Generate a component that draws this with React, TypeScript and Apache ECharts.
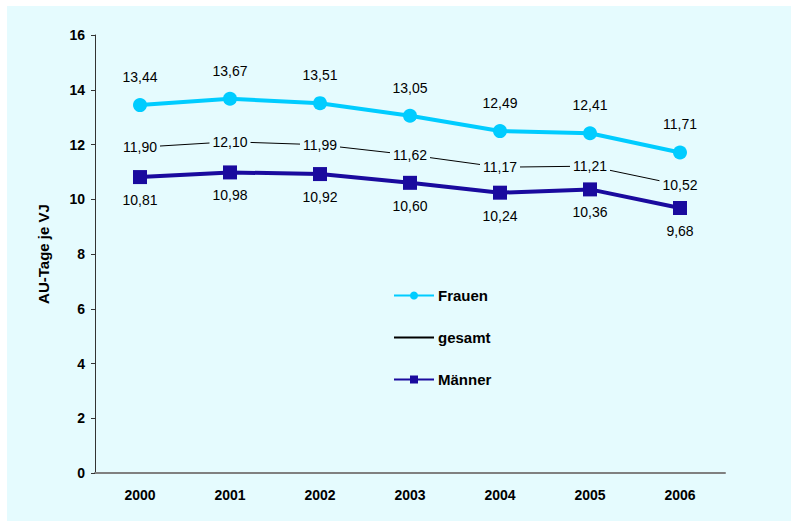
import React, { useEffect, useRef } from "react";
import * as echarts from "echarts";

const years = ["2000", "2001", "2002", "2003", "2004", "2005", "2006"];
const frauen = [13.44, 13.67, 13.51, 13.05, 12.49, 12.41, 11.71];
const gesamt = [11.9, 12.1, 11.99, 11.62, 11.17, 11.21, 10.52];
const maenner = [10.81, 10.98, 10.92, 10.6, 10.24, 10.36, 9.68];

const BG = "#E5FBFE";
const FONT = 'Arial, "Liberation Sans", sans-serif';
const fmt = (p: any) => Number(p.value).toFixed(2).replace(".", ",");

export default function App() {
  const ref = useRef<HTMLDivElement>(null);
  useEffect(() => {
    if (!ref.current) return;
    const chart = echarts.init(ref.current, null, { renderer: "svg" });
    chart.setOption({
      animation: false,
      backgroundColor: BG,
      textStyle: { fontFamily: FONT },
      grid: { left: 88, right: 66, top: 29, bottom: 48 },
      legend: {
        orient: "vertical",
        left: 386,
        top: 282,
        padding: 0,
        itemWidth: 40,
        itemHeight: 10,
        itemGap: 27,
        textStyle: { fontFamily: FONT, fontSize: 15, fontWeight: "bold", color: "#000", padding: [0, 0, 0, -1] },
        data: ["Frauen", "gesamt", "Männer"],
      },
      xAxis: {
        type: "category",
        data: years,
        boundaryGap: true,
        axisLine: { lineStyle: { color: "#808080", width: 2 } },
        axisTick: { show: false },
        axisLabel: { margin: 15, fontSize: 14, fontWeight: "bold", color: "#000", fontFamily: FONT },
      },
      yAxis: {
        type: "value",
        min: 0,
        max: 16,
        interval: 2,
        name: "AU-Tage je VJ",
        nameLocation: "middle",
        nameGap: 44,
        nameTextStyle: { fontSize: 15, fontWeight: "bold", color: "#000", fontFamily: FONT },
        axisLine: { show: true, lineStyle: { color: "#333", width: 1 } },
        axisTick: { show: true, length: 4, lineStyle: { color: "#333" } },
        splitLine: { show: false },
        axisLabel: { margin: 10, fontSize: 14, fontWeight: "bold", color: "#000", fontFamily: FONT },
      },
      series: [
        {
          name: "Frauen",
          type: "line",
          data: frauen,
          symbol: "circle",
          symbolSize: 14,
          lineStyle: { color: "#00CCFF", width: 4 },
          itemStyle: { color: "#00CCFF" },
          label: {
            show: true,
            position: "inside",
            offset: [0, -28],
            formatter: fmt,
            color: "#000",
            fontSize: 14,
            fontFamily: FONT,
          },
          z: 3,
        },
        {
          name: "gesamt",
          type: "line",
          data: gesamt,
          symbol: "circle",
          symbolSize: 1,
          lineStyle: { color: "#000", width: 1 },
          itemStyle: { color: "rgba(0,0,0,0)" },
          label: {
            show: true,
            position: "inside",
            formatter: fmt,
            color: "#000",
            fontSize: 14,
            fontFamily: FONT,
            backgroundColor: BG,
            padding: [1, 3],
          },
          z: 2,
        },
        {
          name: "Männer",
          type: "line",
          data: maenner,
          symbol: "rect",
          symbolSize: 14,
          lineStyle: { color: "#1A0A9E", width: 4 },
          itemStyle: { color: "#1A0A9E" },
          label: {
            show: true,
            position: "inside",
            offset: [0, 23],
            formatter: fmt,
            color: "#000",
            fontSize: 14,
            fontFamily: FONT,
          },
          z: 3,
        },
      ],
    });
    return () => chart.dispose();
  }, []);
  return (
    <div
      ref={ref}
      style={{ position: "absolute", left: 7, top: 6, width: 784, height: 515 }}
    />
  );
}
